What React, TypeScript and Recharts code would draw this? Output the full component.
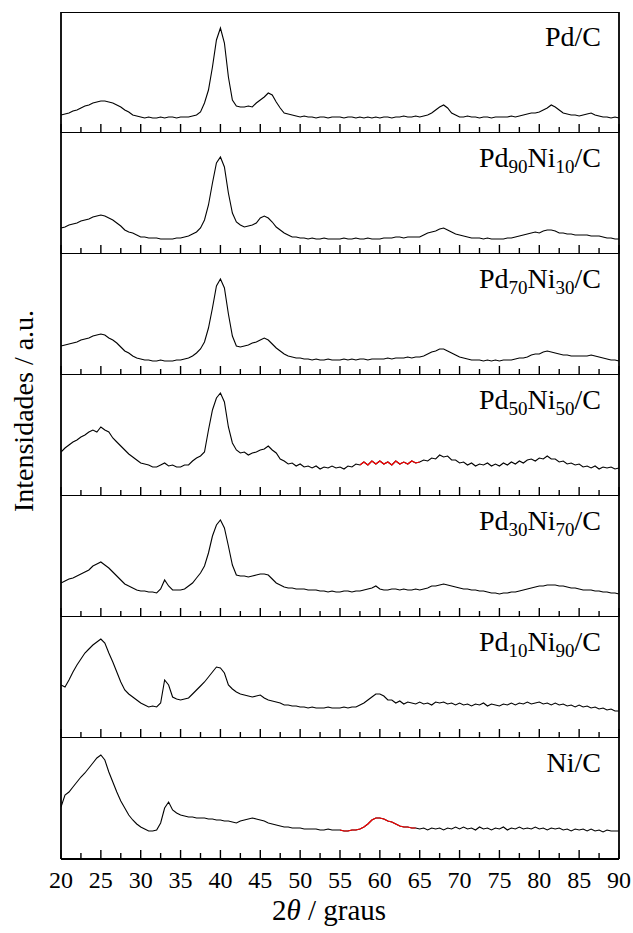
import React from 'react';
import { LineChart, Line, XAxis, YAxis } from 'recharts';

// 2θ sampling grid (degrees), one value every 0.5°
const ANGLES: number[] = Array.from({ length: 141 }, (_, i) => 20 + i * 0.5);

const MAJOR_TICKS = [20, 25, 30, 35, 40, 45, 50, 55, 60, 65, 70, 75, 80, 85, 90];
const MINOR_TICKS = [22.5, 27.5, 32.5, 37.5, 42.5, 47.5, 52.5, 57.5, 62.5, 67.5, 72.5, 77.5, 82.5, 87.5];

// intensities (a.u., stacked panels, 0..121 per panel)
const PD_C = [
  18, 19, 20, 22, 23, 25, 27, 28, 30, 31,
  32, 32, 31, 30, 28, 26, 23, 21, 18, 17,
  16, 15, 16, 15, 15, 16, 15, 16, 16, 15,
  16, 16, 16, 17, 18, 21, 30, 43, 66, 93,
  105, 90, 56, 33, 27, 26, 26, 27, 26, 30,
  33, 36, 40, 38, 31, 25, 20, 19, 18, 17,
  16, 17, 16, 16, 15, 16, 16, 15, 16, 16,
  16, 15, 16, 16, 15, 16, 15, 16, 15, 16,
  15, 16, 16, 15, 16, 16, 17, 16, 16, 17,
  16, 17, 18, 20, 23, 26, 28, 25, 20, 18,
  16, 16, 17, 16, 16, 15, 16, 16, 15, 16,
  16, 16, 16, 17, 16, 17, 18, 19, 20, 20,
  21, 23, 25, 28, 26, 23, 20, 19, 18, 18,
  17, 18, 19, 20, 18, 17, 16, 16, 15, 16,
  15,
];

const PD90_NI10 = [
  26, 27, 29, 30, 31, 33, 34, 35, 37, 38,
  39, 38, 36, 34, 31, 28, 24, 22, 21, 19,
  17, 17, 16, 16, 16, 15, 15, 15, 15, 16,
  16, 17, 18, 20, 22, 26, 34, 49, 71, 91,
  97, 87, 61, 41, 32, 29, 27, 28, 29, 31,
  36, 38, 36, 32, 27, 24, 21, 19, 17, 17,
  16, 16, 15, 16, 15, 15, 16, 15, 15, 15,
  15, 16, 15, 15, 16, 15, 15, 16, 15, 15,
  15, 16, 16, 16, 17, 17, 16, 17, 17, 17,
  17, 19, 21, 22, 23, 25, 26, 24, 22, 20,
  19, 18, 17, 16, 16, 16, 15, 16, 15, 15,
  15, 15, 16, 16, 17, 18, 19, 20, 21, 22,
  21, 23, 24, 24, 23, 21, 21, 20, 20, 19,
  19, 19, 19, 18, 18, 18, 17, 16, 16, 15,
  15,
];

const PD70_NI30 = [
  29, 30, 31, 32, 33, 35, 36, 37, 39, 40,
  41, 40, 37, 35, 32, 28, 24, 22, 19, 17,
  16, 15, 15, 14, 14, 15, 14, 14, 14, 15,
  15, 16, 17, 19, 22, 26, 33, 47, 67, 89,
  96, 87, 61, 39, 29, 28, 29, 30, 32, 33,
  35, 37, 35, 31, 27, 24, 21, 19, 18, 17,
  17, 16, 16, 15, 16, 15, 15, 16, 15, 15,
  15, 16, 15, 16, 15, 16, 16, 15, 16, 16,
  16, 16, 17, 16, 17, 17, 17, 18, 17, 18,
  18, 19, 21, 23, 24, 26, 26, 24, 22, 20,
  18, 17, 16, 15, 15, 15, 14, 15, 14, 15,
  14, 15, 15, 15, 16, 17, 17, 18, 20, 21,
  21, 23, 24, 23, 22, 21, 20, 20, 19, 19,
  19, 19, 19, 20, 19, 18, 17, 16, 15, 15,
  14,
];

const PD50_NI50 = [
  44, 48, 51, 54, 56, 59, 61, 64, 66, 64,
  69, 66, 64, 58, 54, 50, 46, 42, 39, 36,
  33, 32, 31, 29, 29, 31, 33, 30, 31, 29,
  29, 31, 31, 35, 38, 40, 44, 66, 86, 98,
  103, 94, 69, 53, 46, 43, 44, 41, 43, 44,
  46, 47, 50, 46, 43, 37, 35, 32, 33, 30,
  32, 29, 30, 28, 30, 27, 29, 28, 30, 28,
  29, 27, 30, 29, 32, 31, 34, 31, 35, 32,
  35, 32, 34, 31, 35, 32, 34, 32, 35, 33,
  34, 36, 35, 38, 37, 41, 39, 40, 36, 36,
  33, 34, 31, 33, 30, 32, 31, 33, 30, 32,
  30, 33, 31, 34, 32, 35, 33, 36, 37, 35,
  38, 37, 40, 37, 37, 34, 35, 32, 33, 31,
  32, 29, 30, 28, 30, 27, 29, 28, 29, 27,
  28,
];

const PD30_NI70 = [
  34, 36, 38, 39, 41, 43, 45, 47, 51, 53,
  55, 52, 49, 45, 41, 37, 33, 31, 29, 27,
  26, 26, 25, 25, 24, 28, 37, 31, 27, 27,
  27, 28, 31, 34, 39, 44, 51, 64, 81, 92,
  97, 89, 71, 52, 42, 41, 41, 40, 41, 42,
  43, 43, 42, 38, 34, 32, 30, 29, 29, 28,
  28, 28, 27, 27, 27, 26, 26, 25, 26, 25,
  25, 26, 26, 25, 26, 26, 27, 28, 29, 31,
  28, 27, 27, 28, 28, 27, 28, 27, 27, 28,
  27, 28, 29, 31, 31, 32, 33, 32, 31, 30,
  29, 28, 28, 27, 27, 26, 26, 25, 24, 24,
  23, 24, 24, 25, 25, 26, 27, 28, 29, 30,
  31, 31, 32, 32, 32, 31, 31, 30, 29, 29,
  28, 27, 27, 27, 26, 26, 25, 25, 24, 24,
  23,
];

const PD10_NI90 = [
  53, 51, 58, 66, 73, 79, 85, 89, 93, 96,
  99, 95, 85, 76, 66, 56, 48, 44, 41, 38,
  35, 33, 31, 32, 31, 35, 58, 53, 41, 39,
  38, 39, 40, 44, 48, 52, 56, 61, 66, 71,
  70, 65, 53, 49, 46, 44, 43, 42, 41, 42,
  43, 40, 38, 37, 36, 35, 33, 33, 32, 32,
  31, 31, 30, 31, 30, 30, 30, 31, 30, 30,
  30, 31, 30, 31, 31, 33, 35, 38, 41, 44,
  44, 42, 38, 38, 35, 37, 34, 36, 35, 34,
  36, 34, 35, 33, 36, 35, 36, 34, 35, 33,
  35, 33, 34, 32, 34, 33, 35, 32, 34, 33,
  32, 34, 33, 35, 33, 35, 34, 36, 34, 35,
  36, 34, 35, 33, 35, 33, 34, 32, 33, 31,
  33, 31, 32, 30, 31, 29, 30, 28, 29, 27,
  27,
];

const NI_C = [
  52, 64, 67, 72, 77, 82, 86, 91, 96, 101,
  104, 99, 87, 77, 67, 58, 51, 44, 39, 35,
  32, 30, 28, 28, 29, 36, 51, 57, 49, 46,
  44, 43, 42, 42, 41, 41, 41, 40, 40, 39,
  39, 38, 38, 37, 36, 38, 39, 40, 41, 40,
  39, 38, 36, 35, 34, 33, 32, 32, 31, 31,
  31, 30, 30, 30, 30, 29, 29, 30, 29, 29,
  29, 28, 28, 29, 29, 30, 32, 35, 39, 41,
  41, 40, 38, 37, 35, 33, 32, 32, 31, 31,
  30, 31, 29, 31, 30, 31, 29, 31, 30, 32,
  30, 32, 30, 31, 29, 32, 30, 31, 29, 31,
  30, 32, 29, 31, 30, 32, 30, 31, 30, 32,
  30, 31, 29, 31, 30, 31, 29, 30, 28, 30,
  29, 30, 28, 30, 28, 29, 27, 29, 28, 28,
  28,
];

type LabelPart = { t: string; sub?: boolean };
const PANEL_LABELS: LabelPart[][] = [
  [{ t: 'Pd/C' }],
  [{ t: 'Pd' }, { t: '90', sub: true }, { t: 'Ni' }, { t: '10', sub: true }, { t: '/C' }],
  [{ t: 'Pd' }, { t: '70', sub: true }, { t: 'Ni' }, { t: '30', sub: true }, { t: '/C' }],
  [{ t: 'Pd' }, { t: '50', sub: true }, { t: 'Ni' }, { t: '50', sub: true }, { t: '/C' }],
  [{ t: 'Pd' }, { t: '30', sub: true }, { t: 'Ni' }, { t: '70', sub: true }, { t: '/C' }],
  [{ t: 'Pd' }, { t: '10', sub: true }, { t: 'Ni' }, { t: '90', sub: true }, { t: '/C' }],
  [{ t: 'Ni/C' }],
];
const PANEL_SERIES = [PD_C, PD90_NI10, PD70_NI30, PD50_NI50, PD30_NI70, PD10_NI90, NI_C];
// highlighted (red) 2θ ranges per panel
const RED_RANGES: ([number, number] | null)[] = [null, null, null, [57.5, 65], null, null, [55, 64.5]];

const SERIF = '"Liberation Serif", "Times New Roman", Times, serif';
const PANEL_TOP = 12;
const PANEL_H = 121;
const LEFT = 61;
const RIGHT_MARGIN = 14;
const W = 633;

const frame = { stroke: '#000', strokeWidth: 1.8 };
const tickStyle = { stroke: '#000', strokeWidth: 1.4 };
const NoLabel = () => <g />;

function Panel({ idx }: { idx: number }) {
  const series = PANEL_SERIES[idx];
  const red = RED_RANGES[idx];
  const rows = ANGLES.map((a, i) => ({
    x: a,
    y: series[i],
    r: red && a >= red[0] && a <= red[1] ? series[i] : null,
  }));
  const last = idx === PANEL_SERIES.length - 1;
  const height = last ? PANEL_H + 40 : PANEL_H;
  return (
    <div style={{ position: 'absolute', left: 0, top: PANEL_TOP + idx * PANEL_H }}>
      <LineChart width={W} height={height} data={rows} margin={{ top: 0, right: RIGHT_MARGIN, bottom: 0, left: LEFT }}>
        <XAxis
          xAxisId="maj"
          dataKey="x"
          type="number"
          domain={[20, 90]}
          ticks={MAJOR_TICKS}
          interval={0}
          mirror
          height={1}
          tick={NoLabel}
          tickSize={9}
          tickLine={tickStyle}
          axisLine={frame}
          allowDataOverflow
        />
        <XAxis
          xAxisId="min"
          dataKey="x"
          type="number"
          domain={[20, 90]}
          ticks={MINOR_TICKS}
          interval={0}
          mirror
          height={1}
          tick={NoLabel}
          tickSize={5}
          tickLine={tickStyle}
          axisLine={false}
          allowDataOverflow
        />
        {idx === 0 && (
          <XAxis
            xAxisId="top"
            dataKey="x"
            orientation="top"
            type="number"
            domain={[20, 90]}
            mirror
            height={1}
            tick={false}
            tickLine={false}
            axisLine={frame}
            allowDataOverflow
          />
        )}
        {last && (
          <XAxis
            xAxisId="lab"
            dataKey="x"
            type="number"
            domain={[20, 90]}
            ticks={MAJOR_TICKS}
            interval={0}
            height={40}
            tickLine={false}
            axisLine={false}
            tickSize={6}
            tickMargin={6}
            tick={{ fill: '#000', fontSize: 24, fontFamily: SERIF }}
            allowDataOverflow
          />
        )}
        <YAxis
          yAxisId="l"
          dataKey="y"
          type="number"
          domain={[0, PANEL_H]}
          mirror
          tick={false}
          tickLine={false}
          axisLine={frame}
          allowDataOverflow
        />
        <YAxis
          yAxisId="r"
          dataKey="y"
          orientation="right"
          type="number"
          domain={[0, PANEL_H]}
          mirror
          tick={false}
          tickLine={false}
          axisLine={frame}
          allowDataOverflow
        />
        <Line
          xAxisId="maj"
          yAxisId="l"
          dataKey="y"
          stroke="#000"
          strokeWidth={1.1}
          dot={false}
          isAnimationActive={false}
        />
        {red && (
          <Line
            xAxisId="maj"
            yAxisId="l"
            dataKey="r"
            stroke="#ff0000"
            strokeWidth={1.1}
            dot={false}
            connectNulls={false}
            isAnimationActive={false}
          />
        )}
      </LineChart>
    </div>
  );
}

export default function App() {
  return (
    <div style={{ position: 'absolute', left: 0, top: 0, width: W, height: 933, background: '#fff' }}>
      {PANEL_SERIES.map((_, i) => (
        <Panel key={i} idx={i} />
      ))}
      <svg
        width={W}
        height={933}
        style={{ position: 'absolute', left: 0, top: 0, pointerEvents: 'none' }}
        fontFamily={SERIF}
      >
        {PANEL_LABELS.map((parts, i) => (
          <text key={i} x={601} y={PANEL_TOP + i * PANEL_H + 34} textAnchor="end" fontSize={28} fill="#000">
            {parts.map((p, j) =>
              p.sub ? (
                <tspan key={j} dy={6} fontSize={19}>
                  {p.t}
                </tspan>
              ) : (
                <tspan key={j} dy={j > 0 && parts[j - 1].sub ? -6 : 0}>
                  {p.t}
                </tspan>
              ),
            )}
          </text>
        ))}
        <text x={329} y={920} textAnchor="middle" fontSize={29} fill="#000">
          <tspan>2</tspan>
          <tspan fontStyle="italic">θ</tspan>
          <tspan> / graus</tspan>
        </text>
        <text transform="translate(33, 411) rotate(-90)" textAnchor="middle" fontSize={28} fill="#000">
          Intensidades / a.u.
        </text>
      </svg>
    </div>
  );
}
